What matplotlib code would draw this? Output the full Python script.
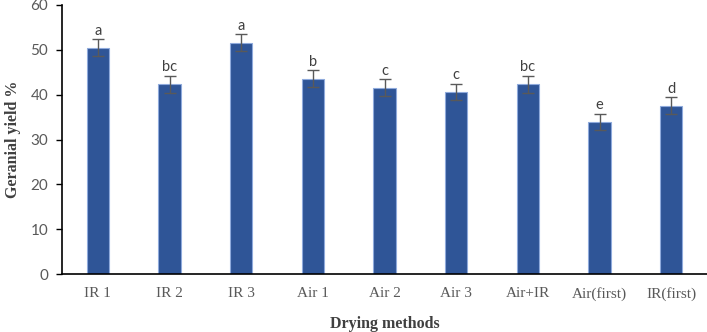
import matplotlib.pyplot as plt
import numpy as np

# data
methods = ["IR 1", "IR 2", "IR 3", "Air 1", "Air 2", "Air 3", "Air+IR", "Air(first)", "IR(first)"]
geranial = [50.5, 42.3, 51.6, 43.6, 41.6, 40.7, 42.3, 34.0, 37.6]
errors = [1.9, 1.9, 1.9, 1.9, 1.9, 1.8, 1.9, 1.8, 1.9]
letters = ["a", "bc", "a", "b", "c", "c", "bc", "e", "d"]

fig = plt.figure(figsize=(7.07, 3.32), dpi=100)
ax = fig.add_axes([0.0877, 0.174, 0.9123, 0.811])

x = np.arange(len(methods))
ax.bar(x, geranial, width=0.31, color="#2F5597", edgecolor="#8FAADC", linewidth=0.8, zorder=2)
ax.errorbar(x, geranial, yerr=errors, fmt="none", ecolor="#595959",
            elinewidth=1.0, capsize=4, capthick=1.0, zorder=3)

for xi, yi, ei, lab in zip(x, geranial, errors, letters):
    ax.annotate(lab, (xi, yi + ei), xytext=(0, 1), textcoords="offset points",
                ha="center", va="bottom", fontsize=10.5, color="#404040", family="Lato")

ax.set_xlim(-0.5, len(methods) - 0.5)
ax.set_ylim(0, 60)
ax.set_yticks(range(0, 61, 10))
ax.set_xticks(x)
ax.set_xticklabels(methods, family="Liberation Serif", fontsize=11, color="#595959")
for t in ax.get_yticklabels():
    t.set_family("Lato")
    t.set_fontsize(11)
    t.set_color("#595959")

ax.tick_params(axis="x", length=0, pad=9)
ax.tick_params(axis="y", length=4, width=1, color="black", pad=6)

for side in ["top", "right"]:
    ax.spines[side].set_visible(False)
ax.spines["left"].set_linewidth(1.2)
ax.spines["bottom"].set_linewidth(1.2)

ax.set_xlabel("Drying methods", family="Liberation Serif", fontweight="bold",
              fontsize=11.5, color="#404040", labelpad=11)
ax.set_ylabel("Geranial yield %", family="Liberation Serif", fontweight="bold",
              fontsize=11.5, color="#404040", labelpad=7)

fig.savefig("out.png", dpi=100)
